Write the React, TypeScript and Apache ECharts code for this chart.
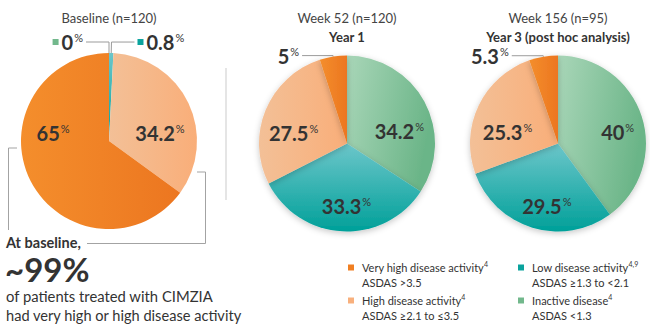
import React, { useEffect, useRef } from 'react';
import * as echarts from 'echarts';

// ---------- data ----------
const categories = ['Inactive disease', 'Low disease activity', 'High disease activity', 'Very high disease activity'];
const criteria = ['ASDAS <1.3', 'ASDAS ≥1.3 to <2.1', 'ASDAS ≥2.1 to ≤3.5', 'ASDAS >3.5'];
const footnotes = ['4', '4,9', '4', '4'];
const baselineValues = [0, 0.8, 34.2, 65];
const week52Values = [34.2, 33.3, 27.5, 5];
const week156Values = [40, 29.5, 25.3, 5.3];
const panelTitles = ['Baseline (n=120)', 'Week 52 (n=120)', 'Week 156 (n=95)'];
const panelSubtitles = ['', 'Year 1', 'Year 3 (post hoc analysis)'];
const calloutLines = ['At baseline,', '~99%', 'of patients treated with CIMZIA', 'had very high or high disease activity'];

// ---------- styles ----------
const FONT = 'Lato, "Open Sans", sans-serif';
const TEXT = '#333333';
const solidColors = ['#72b88c', '#0aa39d', '#f8b07d', '#f07f22'];
const gradientDefs = [
  { dir: [0, 0, 1, 0.3], stops: ['#a9d6b8', '#6bb588'] },
  { dir: [0, 0, 0, 1], stops: ['#6cc6ca', '#00a099'] },
  { dir: [0, 0, 1, 0], stops: ['#f3c097', '#f9ae79'] },
  { dir: [0, 0, 1, 0], stops: ['#f48e2c', '#ec7620'] },
];
const sliceColor = (i: number) => {
  const g = gradientDefs[i];
  return new echarts.graphic.LinearGradient(g.dir[0], g.dir[1], g.dir[2], g.dir[3], [
    { offset: 0, color: g.stops[0] },
    { offset: 1, color: g.stops[1] },
  ]);
};

const valueSets = [baselineValues, week52Values, week156Values];
const panelLayout: any[] = [
  { center: [109, 141], shadow: false, nudges: [null, null, [8.6, 12.6], [-14, -29]], outside: { 0: { marker: true }, 1: { marker: true } }, line: [11, 23] },
  { center: [347, 143.5], shadow: true, nudges: [[11, 9.5], [2, 16], [-10, 7], null], outside: { 3: {} }, line: [1, 31] },
  { center: [558, 143.5], shadow: true, nudges: [[15, 3], [2.5, 18], [-8, 8.5], null], outside: { 3: {} }, line: [1, 31.5] },
];
const legendSpots = [
  { cat: 3, left: 348, top: 264 },
  { cat: 2, left: 348, top: 297 },
  { cat: 1, left: 518, top: 264 },
  { cat: 0, left: 518, top: 297 },
];
const LEG_LH = 14.5;

const labelRich: any = {
  v: { fontFamily: FONT, fontSize: 20, fontWeight: 'bold', color: TEXT, lineHeight: 20 },
  p: { fontFamily: FONT, fontSize: 11, color: TEXT, lineHeight: 13, verticalAlign: 'top', padding: [0, 0, 0, 1] },
  gap: { width: 3 },
};
solidColors.forEach((c, i) => {
  labelRich['m' + i] = { width: 6, height: 6, backgroundColor: c, verticalAlign: 'middle' };
});

function buildOption(): any {
  const series = valueSets.map((vals, s) => {
    const L = panelLayout[s];
    return {
      type: 'pie',
      radius: 88,
      center: L.center,
      startAngle: 90,
      clockwise: true,
      avoidLabelOverlap: false,
      silent: true,
      emphasis: { disabled: true },
      itemStyle: L.shadow
        ? { shadowBlur: 6, shadowColor: 'rgba(0,0,0,0.22)', shadowOffsetY: 2 }
        : {},
      label: {
        show: true,
        position: 'inside',
        formatter: (p: any) => {
          const o = L.outside[p.dataIndex];
          const mark = o && o.marker ? `{m${p.dataIndex}| }{gap| }` : '';
          return `${mark}{v|${p.value}}{p|%}`;
        },
        rich: labelRich,
      },
      labelLine: { show: false },
      labelLayout: (params: any) => {
        const n = L.nudges[params.dataIndex];
        if (n) return { dx: n[0], dy: n[1] };
        return {};
      },
      data: vals.map((v, i) => {
        const item: any = { value: v, name: categories[i], itemStyle: { color: sliceColor(i) } };
        if (L.outside[i]) {
          item.label = { position: 'outside', distanceToLabelLine: 3 };
          item.labelLine = {
            show: true,
            length: L.line[0],
            length2: L.line[1],
            lineStyle: { color: '#9b9b9b', width: 1 },
          };
        }
        return item;
      }),
    };
  });

  const title = panelTitles.map((t, i) => ({
    text: t,
    subtext: panelSubtitles[i],
    left: panelLayout[i].center[0],
    top: 11,
    textAlign: 'center',
    padding: 0,
    itemGap: 6,
    textStyle: { fontFamily: FONT, fontSize: 13, fontWeight: 'normal', color: '#444' },
    subtextStyle: { fontFamily: FONT, fontSize: 13, fontWeight: 'bold', color: TEXT },
  }));

  const legend = legendSpots.map((sp) => ({
    show: true,
    orient: 'vertical',
    left: sp.left,
    top: sp.top - 3.75,
    padding: 0,
    itemWidth: 6,
    itemHeight: 6,
    icon: 'rect',
    selectedMode: false,
    data: [{ name: categories[sp.cat], itemStyle: { color: solidColors[sp.cat] } }],
    formatter: () => `{t|${categories[sp.cat]}}{s|${footnotes[sp.cat]}}\n{t|${criteria[sp.cat]}}`,
    textStyle: {
      padding: [LEG_LH, 0, 0, 3],
      rich: {
        t: { fontFamily: FONT, fontSize: 11, color: TEXT, lineHeight: LEG_LH },
        s: { fontFamily: FONT, fontSize: 7, color: TEXT, lineHeight: 9, verticalAlign: 'top' },
      },
    },
  }));

  const graphic = [
    { type: 'line', shape: { x1: 226, y1: 68, x2: 226, y2: 200 }, style: { stroke: '#dcdcdc', lineWidth: 1.5 } },
    { type: 'polyline', shape: { points: [[17, 148], [8.5, 148], [8.5, 230]] }, style: { stroke: '#a3a3a3', lineWidth: 1, fill: 'none' } },
    { type: 'polyline', shape: { points: [[197, 172], [205.5, 172], [205.5, 243.5], [87, 243.5]] }, style: { stroke: '#a3a3a3', lineWidth: 1, fill: 'none' } },
    { type: 'text', x: 6, y: 242, style: { text: calloutLines[0], fontFamily: FONT, fontSize: 14.5, fontWeight: 'bold', fill: TEXT, verticalAlign: 'middle' } },
    { type: 'text', x: 5, y: 269, style: { text: calloutLines[1], fontFamily: FONT, fontSize: 33, fontWeight: 'bold', fill: TEXT, verticalAlign: 'middle' } },
    { type: 'text', x: 6, y: 296, style: { text: calloutLines[2], fontFamily: FONT, fontSize: 14.8, fill: TEXT, verticalAlign: 'middle' } },
    { type: 'text', x: 6, y: 315.5, style: { text: calloutLines[3], fontFamily: FONT, fontSize: 14.6, fill: TEXT, verticalAlign: 'middle' } },
  ];

  return {
    animation: false,
    backgroundColor: '#ffffff',
    title,
    legend,
    graphic,
    series,
  };
}

export default function App() {
  const ref = useRef<HTMLDivElement>(null);
  useEffect(() => {
    if (!ref.current) return;
    const chart = echarts.init(ref.current, null, { renderer: 'svg' });
    chart.setOption(buildOption());
    return () => chart.dispose();
  }, []);
  return (
    <div
      ref={ref}
      style={{ position: 'fixed', left: 0, top: 0, width: 650, height: 330, background: '#fff' }}
    />
  );
}
